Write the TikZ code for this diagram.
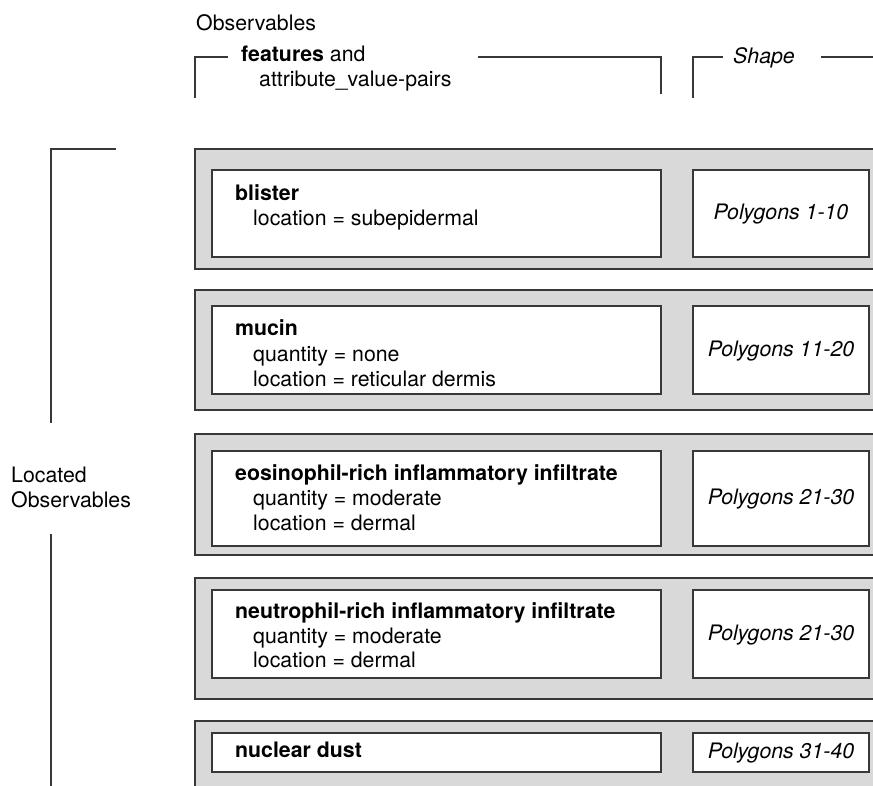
\documentclass[tikz,border=0pt]{standalone}
\usepackage{fontspec}
\setmainfont{TeX Gyre Heros}
\usetikzlibrary{positioning}
\definecolor{rowgrey}{HTML}{D9D9D9}
\definecolor{linegrey}{HTML}{383838}

\begin{document}
\begin{tikzpicture}[x=1pt, y=-1pt, font=\fontsize{21.3}{25}\selectfont,
    rowbox/.style={fill=rowgrey, draw=linegrey, line width=1.2pt},
    featbox/.style={fill=white, draw=linegrey, line width=1.2pt},
    brace/.style={draw=linegrey, line width=1.2pt},
    lbl/.style={anchor=base west, inner sep=0pt},
    poly/.style={anchor=base, inner sep=0pt, font=\fontsize{21.3}{25}\selectfont\itshape}]
  \useasboundingbox (0,0) rectangle (873,786);

  % Cabecera
  \node[lbl] (obs) at (196,31) {Observables};
  \node[lbl] (feat) at (241,62) {\textbf{features} and};
  \node[lbl] (avp) at (259,87) {attribute\_value-pairs};
  \node[lbl, font=\fontsize{21.3}{25}\selectfont\itshape] (shape) at (733,64) {Shape};
  \draw[brace] (195,98) -- (195,57) -- (228,57);
  \draw[brace] (478,57) -- (661,57) -- (661,94);
  \draw[brace] (693,98) -- (693,57) -- (723,57);
  \draw[brace] (821,57) -- (880,57);

  % Located Observables
  \node[lbl] (loc) at (11,482) {Located};
  \node[lbl, below=0pt of loc.base west, anchor=base west, yshift=-25pt] (locobs) {Observables};
  \draw[brace] (116,149) -- (51,149) -- (51,423);
  \draw[brace] (51,534) -- (51,800);

  % Fila 1
  \draw[rowbox] (195,149) rectangle (890,269);
  \draw[featbox] (212,170) rectangle (661,257);
  \draw[featbox] (693,170) rectangle (869,257);
  \node[lbl] (f1) at (235,200.5) {\textbf{blister}};
  \node[lbl] (f1a) at (253,225.5) {location = subepidermal};
  \node[poly] (p1) at (781,219.5) {Polygons 1-10};

  % Fila 2
  \draw[rowbox] (195,290) rectangle (890,410);
  \draw[featbox] (212,306) rectangle (661,394);
  \draw[featbox] (693,306) rectangle (869,394);
  \node[lbl] (f2) at (235,335.5) {\textbf{mucin}};
  \node[lbl] (f2a) at (253,361) {quantity = none};
  \node[lbl] (f2b) at (253,386) {location = reticular dermis};
  \node[poly] (p2) at (781,356) {Polygons 11-20};

  % Fila 3
  \draw[rowbox] (195,434) rectangle (890,555);
  \draw[featbox] (212,451) rectangle (661,546);
  \draw[featbox] (693,451) rectangle (869,546);
  \node[lbl] (f3) at (235,480) {\textbf{eosinophil-rich inflammatory infiltrate}};
  \node[lbl] (f3a) at (253,505) {quantity = moderate};
  \node[lbl] (f3b) at (253,530) {location = dermal};
  \node[poly] (p3) at (781,504.5) {Polygons 21-30};

  % Fila 4
  \draw[rowbox] (195,578) rectangle (890,699);
  \draw[featbox] (212,590) rectangle (661,678);
  \draw[featbox] (693,590) rectangle (869,678);
  \node[lbl] (f4) at (235,618.5) {\textbf{neutrophil-rich inflammatory infiltrate}};
  \node[lbl] (f4a) at (253,643.5) {quantity = moderate};
  \node[lbl] (f4b) at (253,667.5) {location = dermal};
  \node[poly] (p4) at (781,640) {Polygons 21-30};

  % Fila 5
  \draw[rowbox] (195,721) rectangle (890,810);
  \draw[featbox] (212,733) rectangle (661,772);
  \draw[featbox] (693,733) rectangle (869,772);
  \node[lbl] (f5) at (235,757.5) {\textbf{nuclear dust}};
  \node[poly] (p5) at (781,758.5) {Polygons 31-40};
\end{tikzpicture}
\end{document}
